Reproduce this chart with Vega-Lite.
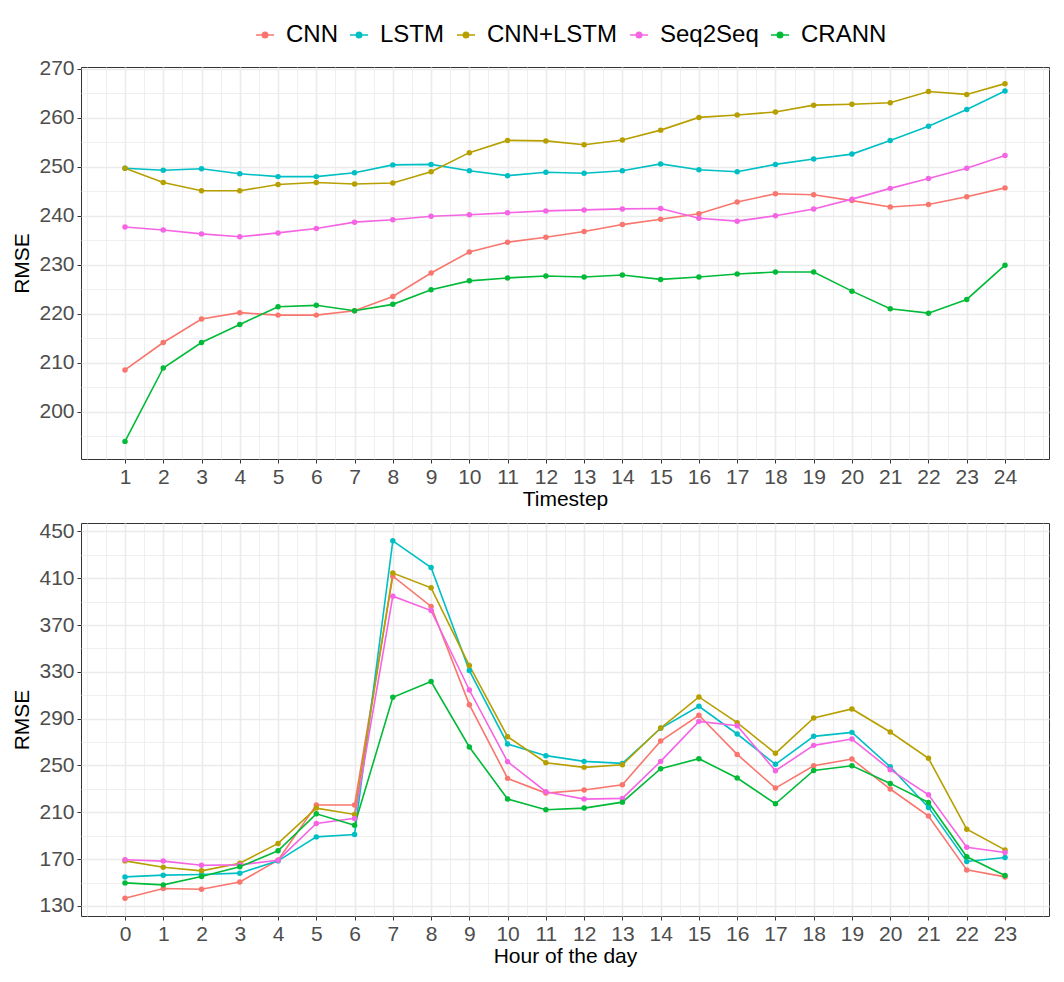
{
  "$schema": "https://vega.github.io/schema/vega-lite/v6.json",
  "padding": {"left": 11, "top": 23, "right": 15, "bottom": 10},
  "background": "white",
  "config": {
    "font": "Liberation Sans",
    "view": {"stroke": "#333333", "strokeWidth": 1},
    "axis": {
      "domain": false,
      "labelFontSize": 21,
      "labelColor": "#4d4d4d",
      "labelOverlap": false,
      "titleFontSize": 21,
      "titleFontWeight": "normal",
      "titleColor": "#000000",
      "tickColor": "#333333",
      "tickSize": 4,
      "labelPadding": 3,
      "gridColor": "#ebebeb"
    }
  },
  "datasets": {
    "timestep": [
      {"model": "CNN", "step": 1, "rmse": 208.5}, {"model": "CNN", "step": 2, "rmse": 214.1}, {"model": "CNN", "step": 3, "rmse": 218.9}, {"model": "CNN", "step": 4, "rmse": 220.2},
      {"model": "CNN", "step": 5, "rmse": 219.7}, {"model": "CNN", "step": 6, "rmse": 219.7}, {"model": "CNN", "step": 7, "rmse": 220.6}, {"model": "CNN", "step": 8, "rmse": 223.5},
      {"model": "CNN", "step": 9, "rmse": 228.3}, {"model": "CNN", "step": 10, "rmse": 232.6}, {"model": "CNN", "step": 11, "rmse": 234.6}, {"model": "CNN", "step": 12, "rmse": 235.6},
      {"model": "CNN", "step": 13, "rmse": 236.8}, {"model": "CNN", "step": 14, "rmse": 238.2}, {"model": "CNN", "step": 15, "rmse": 239.3}, {"model": "CNN", "step": 16, "rmse": 240.4},
      {"model": "CNN", "step": 17, "rmse": 242.8}, {"model": "CNN", "step": 18, "rmse": 244.5}, {"model": "CNN", "step": 19, "rmse": 244.3}, {"model": "CNN", "step": 20, "rmse": 243.1},
      {"model": "CNN", "step": 21, "rmse": 241.8}, {"model": "CNN", "step": 22, "rmse": 242.3}, {"model": "CNN", "step": 23, "rmse": 243.9}, {"model": "CNN", "step": 24, "rmse": 245.7},
      {"model": "LSTM", "step": 1, "rmse": 249.7}, {"model": "LSTM", "step": 2, "rmse": 249.3}, {"model": "LSTM", "step": 3, "rmse": 249.6}, {"model": "LSTM", "step": 4, "rmse": 248.6},
      {"model": "LSTM", "step": 5, "rmse": 248.0}, {"model": "LSTM", "step": 6, "rmse": 248.0}, {"model": "LSTM", "step": 7, "rmse": 248.8}, {"model": "LSTM", "step": 8, "rmse": 250.4},
      {"model": "LSTM", "step": 9, "rmse": 250.5}, {"model": "LSTM", "step": 10, "rmse": 249.2}, {"model": "LSTM", "step": 11, "rmse": 248.2}, {"model": "LSTM", "step": 12, "rmse": 248.9},
      {"model": "LSTM", "step": 13, "rmse": 248.7}, {"model": "LSTM", "step": 14, "rmse": 249.2}, {"model": "LSTM", "step": 15, "rmse": 250.6}, {"model": "LSTM", "step": 16, "rmse": 249.4},
      {"model": "LSTM", "step": 17, "rmse": 249.0}, {"model": "LSTM", "step": 18, "rmse": 250.5}, {"model": "LSTM", "step": 19, "rmse": 251.6}, {"model": "LSTM", "step": 20, "rmse": 252.6},
      {"model": "LSTM", "step": 21, "rmse": 255.4}, {"model": "LSTM", "step": 22, "rmse": 258.3}, {"model": "LSTM", "step": 23, "rmse": 261.7}, {"model": "LSTM", "step": 24, "rmse": 265.5},
      {"model": "CNN+LSTM", "step": 1, "rmse": 249.7}, {"model": "CNN+LSTM", "step": 2, "rmse": 246.8}, {"model": "CNN+LSTM", "step": 3, "rmse": 245.1}, {"model": "CNN+LSTM", "step": 4, "rmse": 245.1},
      {"model": "CNN+LSTM", "step": 5, "rmse": 246.4}, {"model": "CNN+LSTM", "step": 6, "rmse": 246.8}, {"model": "CNN+LSTM", "step": 7, "rmse": 246.5}, {"model": "CNN+LSTM", "step": 8, "rmse": 246.7},
      {"model": "CNN+LSTM", "step": 9, "rmse": 249.0}, {"model": "CNN+LSTM", "step": 10, "rmse": 252.9}, {"model": "CNN+LSTM", "step": 11, "rmse": 255.4}, {"model": "CNN+LSTM", "step": 12, "rmse": 255.3},
      {"model": "CNN+LSTM", "step": 13, "rmse": 254.5}, {"model": "CNN+LSTM", "step": 14, "rmse": 255.5}, {"model": "CNN+LSTM", "step": 15, "rmse": 257.5}, {"model": "CNN+LSTM", "step": 16, "rmse": 260.1},
      {"model": "CNN+LSTM", "step": 17, "rmse": 260.6}, {"model": "CNN+LSTM", "step": 18, "rmse": 261.2}, {"model": "CNN+LSTM", "step": 19, "rmse": 262.6}, {"model": "CNN+LSTM", "step": 20, "rmse": 262.8},
      {"model": "CNN+LSTM", "step": 21, "rmse": 263.1}, {"model": "CNN+LSTM", "step": 22, "rmse": 265.4}, {"model": "CNN+LSTM", "step": 23, "rmse": 264.8}, {"model": "CNN+LSTM", "step": 24, "rmse": 267.0},
      {"model": "Seq2Seq", "step": 1, "rmse": 237.7}, {"model": "Seq2Seq", "step": 2, "rmse": 237.1}, {"model": "Seq2Seq", "step": 3, "rmse": 236.3}, {"model": "Seq2Seq", "step": 4, "rmse": 235.7},
      {"model": "Seq2Seq", "step": 5, "rmse": 236.5}, {"model": "Seq2Seq", "step": 6, "rmse": 237.4}, {"model": "Seq2Seq", "step": 7, "rmse": 238.7}, {"model": "Seq2Seq", "step": 8, "rmse": 239.2},
      {"model": "Seq2Seq", "step": 9, "rmse": 239.9}, {"model": "Seq2Seq", "step": 10, "rmse": 240.2}, {"model": "Seq2Seq", "step": 11, "rmse": 240.6}, {"model": "Seq2Seq", "step": 12, "rmse": 241.0},
      {"model": "Seq2Seq", "step": 13, "rmse": 241.2}, {"model": "Seq2Seq", "step": 14, "rmse": 241.4}, {"model": "Seq2Seq", "step": 15, "rmse": 241.5}, {"model": "Seq2Seq", "step": 16, "rmse": 239.5},
      {"model": "Seq2Seq", "step": 17, "rmse": 238.9}, {"model": "Seq2Seq", "step": 18, "rmse": 240.0}, {"model": "Seq2Seq", "step": 19, "rmse": 241.4}, {"model": "Seq2Seq", "step": 20, "rmse": 243.4},
      {"model": "Seq2Seq", "step": 21, "rmse": 245.6}, {"model": "Seq2Seq", "step": 22, "rmse": 247.6}, {"model": "Seq2Seq", "step": 23, "rmse": 249.7}, {"model": "Seq2Seq", "step": 24, "rmse": 252.3},
      {"model": "CRANN", "step": 1, "rmse": 193.9}, {"model": "CRANN", "step": 2, "rmse": 208.9}, {"model": "CRANN", "step": 3, "rmse": 214.1}, {"model": "CRANN", "step": 4, "rmse": 217.8},
      {"model": "CRANN", "step": 5, "rmse": 221.4}, {"model": "CRANN", "step": 6, "rmse": 221.7}, {"model": "CRANN", "step": 7, "rmse": 220.6}, {"model": "CRANN", "step": 8, "rmse": 221.9},
      {"model": "CRANN", "step": 9, "rmse": 224.9}, {"model": "CRANN", "step": 10, "rmse": 226.7}, {"model": "CRANN", "step": 11, "rmse": 227.3}, {"model": "CRANN", "step": 12, "rmse": 227.7},
      {"model": "CRANN", "step": 13, "rmse": 227.5}, {"model": "CRANN", "step": 14, "rmse": 227.9}, {"model": "CRANN", "step": 15, "rmse": 227.0}, {"model": "CRANN", "step": 16, "rmse": 227.5},
      {"model": "CRANN", "step": 17, "rmse": 228.1}, {"model": "CRANN", "step": 18, "rmse": 228.5}, {"model": "CRANN", "step": 19, "rmse": 228.5}, {"model": "CRANN", "step": 20, "rmse": 224.6},
      {"model": "CRANN", "step": 21, "rmse": 221.0}, {"model": "CRANN", "step": 22, "rmse": 220.1}, {"model": "CRANN", "step": 23, "rmse": 222.9}, {"model": "CRANN", "step": 24, "rmse": 229.9}
    ],
    "hour": [
      {"model": "CNN", "hour": 0, "rmse": 136.6}, {"model": "CNN", "hour": 1, "rmse": 144.9}, {"model": "CNN", "hour": 2, "rmse": 144.3}, {"model": "CNN", "hour": 3, "rmse": 150.5},
      {"model": "CNN", "hour": 4, "rmse": 169.1}, {"model": "CNN", "hour": 5, "rmse": 216.2}, {"model": "CNN", "hour": 6, "rmse": 216.2}, {"model": "CNN", "hour": 7, "rmse": 411.8},
      {"model": "CNN", "hour": 8, "rmse": 385.9}, {"model": "CNN", "hour": 9, "rmse": 302.0}, {"model": "CNN", "hour": 10, "rmse": 239.0}, {"model": "CNN", "hour": 11, "rmse": 226.4},
      {"model": "CNN", "hour": 12, "rmse": 229.0}, {"model": "CNN", "hour": 13, "rmse": 233.6}, {"model": "CNN", "hour": 14, "rmse": 270.9}, {"model": "CNN", "hour": 15, "rmse": 292.9},
      {"model": "CNN", "hour": 16, "rmse": 259.5}, {"model": "CNN", "hour": 17, "rmse": 230.7}, {"model": "CNN", "hour": 18, "rmse": 249.8}, {"model": "CNN", "hour": 19, "rmse": 255.5},
      {"model": "CNN", "hour": 20, "rmse": 229.9}, {"model": "CNN", "hour": 21, "rmse": 206.8}, {"model": "CNN", "hour": 22, "rmse": 160.8}, {"model": "CNN", "hour": 23, "rmse": 154.8},
      {"model": "LSTM", "hour": 0, "rmse": 154.8}, {"model": "LSTM", "hour": 1, "rmse": 156.3}, {"model": "LSTM", "hour": 2, "rmse": 156.8}, {"model": "LSTM", "hour": 3, "rmse": 158.0},
      {"model": "LSTM", "hour": 4, "rmse": 168.5}, {"model": "LSTM", "hour": 5, "rmse": 189.0}, {"model": "LSTM", "hour": 6, "rmse": 191.1}, {"model": "LSTM", "hour": 7, "rmse": 442.0},
      {"model": "LSTM", "hour": 8, "rmse": 419.2}, {"model": "LSTM", "hour": 9, "rmse": 331.1}, {"model": "LSTM", "hour": 10, "rmse": 268.4}, {"model": "LSTM", "hour": 11, "rmse": 258.4},
      {"model": "LSTM", "hour": 12, "rmse": 253.5}, {"model": "LSTM", "hour": 13, "rmse": 251.8}, {"model": "LSTM", "hour": 14, "rmse": 281.8}, {"model": "LSTM", "hour": 15, "rmse": 300.6},
      {"model": "LSTM", "hour": 16, "rmse": 276.9}, {"model": "LSTM", "hour": 17, "rmse": 251.0}, {"model": "LSTM", "hour": 18, "rmse": 274.9}, {"model": "LSTM", "hour": 19, "rmse": 278.3},
      {"model": "LSTM", "hour": 20, "rmse": 248.9}, {"model": "LSTM", "hour": 21, "rmse": 214.2}, {"model": "LSTM", "hour": 22, "rmse": 168.0}, {"model": "LSTM", "hour": 23, "rmse": 171.4},
      {"model": "CNN+LSTM", "hour": 0, "rmse": 168.5}, {"model": "CNN+LSTM", "hour": 1, "rmse": 163.1}, {"model": "CNN+LSTM", "hour": 2, "rmse": 160.0}, {"model": "CNN+LSTM", "hour": 3, "rmse": 166.5},
      {"model": "CNN+LSTM", "hour": 4, "rmse": 183.4}, {"model": "CNN+LSTM", "hour": 5, "rmse": 213.6}, {"model": "CNN+LSTM", "hour": 6, "rmse": 208.2}, {"model": "CNN+LSTM", "hour": 7, "rmse": 414.4},
      {"model": "CNN+LSTM", "hour": 8, "rmse": 401.8}, {"model": "CNN+LSTM", "hour": 9, "rmse": 335.4}, {"model": "CNN+LSTM", "hour": 10, "rmse": 274.6}, {"model": "CNN+LSTM", "hour": 11, "rmse": 252.4},
      {"model": "CNN+LSTM", "hour": 12, "rmse": 248.4}, {"model": "CNN+LSTM", "hour": 13, "rmse": 250.7}, {"model": "CNN+LSTM", "hour": 14, "rmse": 282.0}, {"model": "CNN+LSTM", "hour": 15, "rmse": 308.6},
      {"model": "CNN+LSTM", "hour": 16, "rmse": 286.6}, {"model": "CNN+LSTM", "hour": 17, "rmse": 260.4}, {"model": "CNN+LSTM", "hour": 18, "rmse": 290.6}, {"model": "CNN+LSTM", "hour": 19, "rmse": 298.3},
      {"model": "CNN+LSTM", "hour": 20, "rmse": 278.6}, {"model": "CNN+LSTM", "hour": 21, "rmse": 256.1}, {"model": "CNN+LSTM", "hour": 22, "rmse": 195.6}, {"model": "CNN+LSTM", "hour": 23, "rmse": 177.9},
      {"model": "Seq2Seq", "hour": 0, "rmse": 169.4}, {"model": "Seq2Seq", "hour": 1, "rmse": 168.3}, {"model": "Seq2Seq", "hour": 2, "rmse": 164.8}, {"model": "Seq2Seq", "hour": 3, "rmse": 165.1},
      {"model": "Seq2Seq", "hour": 4, "rmse": 169.1}, {"model": "Seq2Seq", "hour": 5, "rmse": 200.5}, {"model": "Seq2Seq", "hour": 6, "rmse": 204.8}, {"model": "Seq2Seq", "hour": 7, "rmse": 394.7},
      {"model": "Seq2Seq", "hour": 8, "rmse": 382.4}, {"model": "Seq2Seq", "hour": 9, "rmse": 314.5}, {"model": "Seq2Seq", "hour": 10, "rmse": 253.2}, {"model": "Seq2Seq", "hour": 11, "rmse": 227.6},
      {"model": "Seq2Seq", "hour": 12, "rmse": 221.3}, {"model": "Seq2Seq", "hour": 13, "rmse": 221.9}, {"model": "Seq2Seq", "hour": 14, "rmse": 253.5}, {"model": "Seq2Seq", "hour": 15, "rmse": 287.7},
      {"model": "Seq2Seq", "hour": 16, "rmse": 284.0}, {"model": "Seq2Seq", "hour": 17, "rmse": 245.5}, {"model": "Seq2Seq", "hour": 18, "rmse": 267.2}, {"model": "Seq2Seq", "hour": 19, "rmse": 272.6},
      {"model": "Seq2Seq", "hour": 20, "rmse": 246.4}, {"model": "Seq2Seq", "hour": 21, "rmse": 225.0}, {"model": "Seq2Seq", "hour": 22, "rmse": 180.2}, {"model": "Seq2Seq", "hour": 23, "rmse": 175.7},
      {"model": "CRANN", "hour": 0, "rmse": 149.7}, {"model": "CRANN", "hour": 1, "rmse": 148.0}, {"model": "CRANN", "hour": 2, "rmse": 155.1}, {"model": "CRANN", "hour": 3, "rmse": 163.4},
      {"model": "CRANN", "hour": 4, "rmse": 177.1}, {"model": "CRANN", "hour": 5, "rmse": 208.7}, {"model": "CRANN", "hour": 6, "rmse": 199.0}, {"model": "CRANN", "hour": 7, "rmse": 308.3},
      {"model": "CRANN", "hour": 8, "rmse": 321.7}, {"model": "CRANN", "hour": 9, "rmse": 265.8}, {"model": "CRANN", "hour": 10, "rmse": 221.3}, {"model": "CRANN", "hour": 11, "rmse": 212.2},
      {"model": "CRANN", "hour": 12, "rmse": 213.6}, {"model": "CRANN", "hour": 13, "rmse": 218.7}, {"model": "CRANN", "hour": 14, "rmse": 247.3}, {"model": "CRANN", "hour": 15, "rmse": 255.8},
      {"model": "CRANN", "hour": 16, "rmse": 239.3}, {"model": "CRANN", "hour": 17, "rmse": 217.3}, {"model": "CRANN", "hour": 18, "rmse": 245.8}, {"model": "CRANN", "hour": 19, "rmse": 249.8},
      {"model": "CRANN", "hour": 20, "rmse": 234.7}, {"model": "CRANN", "hour": 21, "rmse": 218.4}, {"model": "CRANN", "hour": 22, "rmse": 172.0}, {"model": "CRANN", "hour": 23, "rmse": 156.0}
    ]
  },
  "resolve": {"scale": {"color": "shared"}, "legend": {"color": "shared"}},
  "spacing": 9,
  "vconcat": [
    {
      "width": 968,
      "height": 392,
      "data": {"name": "timestep"},
      "encoding": {
        "x": {
          "field": "step",
          "type": "quantitative",
          "title": "Timestep",
          "scale": {"domain": [-0.15, 25.15], "nice": false, "zero": false},
          "axis": {
            "values": [0, 0.5, 1, 1.5, 2, 2.5, 3, 3.5, 4, 4.5, 5, 5.5, 6, 6.5, 7, 7.5, 8, 8.5, 9, 9.5, 10, 10.5, 11, 11.5, 12, 12.5, 13, 13.5, 14, 14.5, 15, 15.5, 16, 16.5, 17, 17.5, 18, 18.5, 19, 19.5, 20, 20.5, 21, 21.5, 22, 22.5, 23, 23.5, 24, 24.5, 25],
            "labelExpr": "datum.value % 1 === 0 && datum.value >= 1 && datum.value <= 24 ? format(datum.value, 'd') : ''",
            "tickOpacity": {"condition": {"test": "datum.value % 1 !== 0 || datum.value < 1 || datum.value > 24", "value": 0}, "value": 1},
            "gridWidth": {"condition": {"test": "datum.value % 1 !== 0 || datum.value < 1 || datum.value > 24", "value": 0.8}, "value": 1.6},
            "titlePadding": 1,
            "labelFlush": false
          }
        },
        "y": {
          "field": "rmse",
          "type": "quantitative",
          "title": "RMSE",
          "scale": {"domain": [190.3, 270.4], "nice": false, "zero": false},
          "axis": {
            "values": [195, 200, 205, 210, 215, 220, 225, 230, 235, 240, 245, 250, 255, 260, 265, 270],
            "labelExpr": "datum.value % 10 === 0 ? format(datum.value, 'd') : ''",
            "tickOpacity": {"condition": {"test": "datum.value % 10 !== 0", "value": 0}, "value": 1},
            "gridWidth": {"condition": {"test": "datum.value % 10 !== 0", "value": 0.8}, "value": 1.6},
            "titlePadding": 6,
            "labelFlush": false
          }
        },
        "color": {
          "field": "model",
          "type": "nominal",
          "scale": {"domain": ["CNN", "LSTM", "CNN+LSTM", "Seq2Seq", "CRANN"], "range": ["#F8766D", "#00BFC4", "#B79F00", "#F564E3", "#00BA38"]},
          "legend": {
            "orient": "none",
            "direction": "horizontal",
            "legendX": 172,
            "legendY": -44,
            "title": null,
            "labelFontSize": 24,
            "labelColor": "#000000",
            "labelOffset": 9,
            "columnPadding": 8,
            "symbolType": "M-1,0L1,0M-0.3,0A0.3,0.3,0,1,0,0.3,0A0.3,0.3,0,1,0,-0.3,0Z",
            "symbolSize": 324,
            "symbolStrokeWidth": 1.6,
            "encode": {"symbols": {"update": {"fill": {"scale": "color", "field": "value"}, "stroke": {"scale": "color", "field": "value"}}}}
          }
        }
      },
      "layer": [
        {"mark": {"type": "line", "strokeWidth": 1.6}},
        {"mark": {"type": "circle", "size": 30, "opacity": 1}}
      ]
    },
    {
      "width": 968,
      "height": 393,
      "data": {"name": "hour"},
      "encoding": {
        "x": {
          "field": "hour",
          "type": "quantitative",
          "title": "Hour of the day",
          "scale": {"domain": [-1.15, 24.15], "nice": false, "zero": false},
          "axis": {
            "values": [-1, -0.5, 0, 0.5, 1, 1.5, 2, 2.5, 3, 3.5, 4, 4.5, 5, 5.5, 6, 6.5, 7, 7.5, 8, 8.5, 9, 9.5, 10, 10.5, 11, 11.5, 12, 12.5, 13, 13.5, 14, 14.5, 15, 15.5, 16, 16.5, 17, 17.5, 18, 18.5, 19, 19.5, 20, 20.5, 21, 21.5, 22, 22.5, 23, 23.5, 24],
            "labelExpr": "datum.value % 1 === 0 && datum.value >= 0 && datum.value <= 23 ? format(datum.value, 'd') : ''",
            "tickOpacity": {"condition": {"test": "datum.value % 1 !== 0 || datum.value < 0 || datum.value > 23", "value": 0}, "value": 1},
            "gridWidth": {"condition": {"test": "datum.value % 1 !== 0 || datum.value < 0 || datum.value > 23", "value": 0.8}, "value": 1.6},
            "titlePadding": 1,
            "labelFlush": false
          }
        },
        "y": {
          "field": "rmse",
          "type": "quantitative",
          "title": "RMSE",
          "scale": {"domain": [121.4, 457.2], "nice": false, "zero": false},
          "axis": {
            "values": [130, 150, 170, 190, 210, 230, 250, 270, 290, 310, 330, 350, 370, 390, 410, 430, 450],
            "labelExpr": "(datum.value - 130) % 40 === 0 ? format(datum.value, 'd') : ''",
            "tickOpacity": {"condition": {"test": "(datum.value - 130) % 40 !== 0", "value": 0}, "value": 1},
            "gridWidth": {"condition": {"test": "(datum.value - 130) % 40 !== 0", "value": 0.8}, "value": 1.6},
            "titlePadding": 6,
            "labelFlush": false
          }
        },
        "color": {
          "field": "model",
          "type": "nominal",
          "scale": {"domain": ["CNN", "LSTM", "CNN+LSTM", "Seq2Seq", "CRANN"], "range": ["#F8766D", "#00BFC4", "#B79F00", "#F564E3", "#00BA38"]}
        }
      },
      "layer": [
        {"mark": {"type": "line", "strokeWidth": 1.6}},
        {"mark": {"type": "circle", "size": 30, "opacity": 1}}
      ]
    }
  ]
}
